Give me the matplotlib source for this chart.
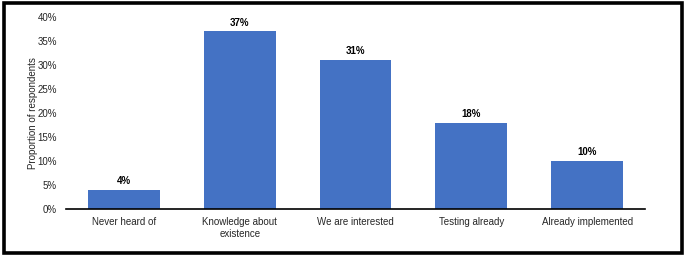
import matplotlib.pyplot as plt
import matplotlib.patches as mpl_patches
from matplotlib.ticker import PercentFormatter, MultipleLocator

aCategory = ['Never heard of', 'Knowledge about\nexistence', 'We are interested',
             'Testing already', 'Already implemented']
aValue = [4, 37, 31, 18, 10]

plt.rcParams['font.family'] = ['Liberation Sans', 'DejaVu Sans']

fig = plt.figure(figsize=(6.85, 2.57), dpi=100)
ax = fig.add_axes([0.0964, 0.1868, 0.8452, 0.7471])

ax.bar(range(len(aValue)), aValue, width=0.62, color='#4472C4')
for i, v in enumerate(aValue):
    ax.text(i, v + 0.8, '%d%%' % v, ha='center', va='bottom',
            fontsize=7, fontweight='bold')

ax.set_xlim(-0.5, len(aValue) - 0.5)
ax.set_ylim(0, 40)
ax.yaxis.set_major_locator(MultipleLocator(5))
ax.yaxis.set_major_formatter(PercentFormatter(decimals=0))
ax.set_xticks(range(len(aCategory)))
ax.set_xticklabels(aCategory)
ax.tick_params(axis='both', length=0, labelsize=7, colors='#262626')
ax.tick_params(axis='x', pad=6)
ax.tick_params(axis='y', pad=6.5)
ax.set_ylabel('Proportion of respondents', fontsize=7, labelpad=-0.5, color='#262626')

for s in ['left', 'right', 'top']:
    ax.spines[s].set_visible(False)
ax.spines['bottom'].set_linewidth(1.2)

# outer frame
fig.patches.append(mpl_patches.Rectangle((4 / 685, 4.5 / 257), 677.5 / 685, 249.5 / 257,
                                          transform=fig.transFigure, fill=False,
                                          ec='black', lw=2.6, joinstyle='miter'))

plt.savefig('out.png', dpi=100)
plt.close('all')
